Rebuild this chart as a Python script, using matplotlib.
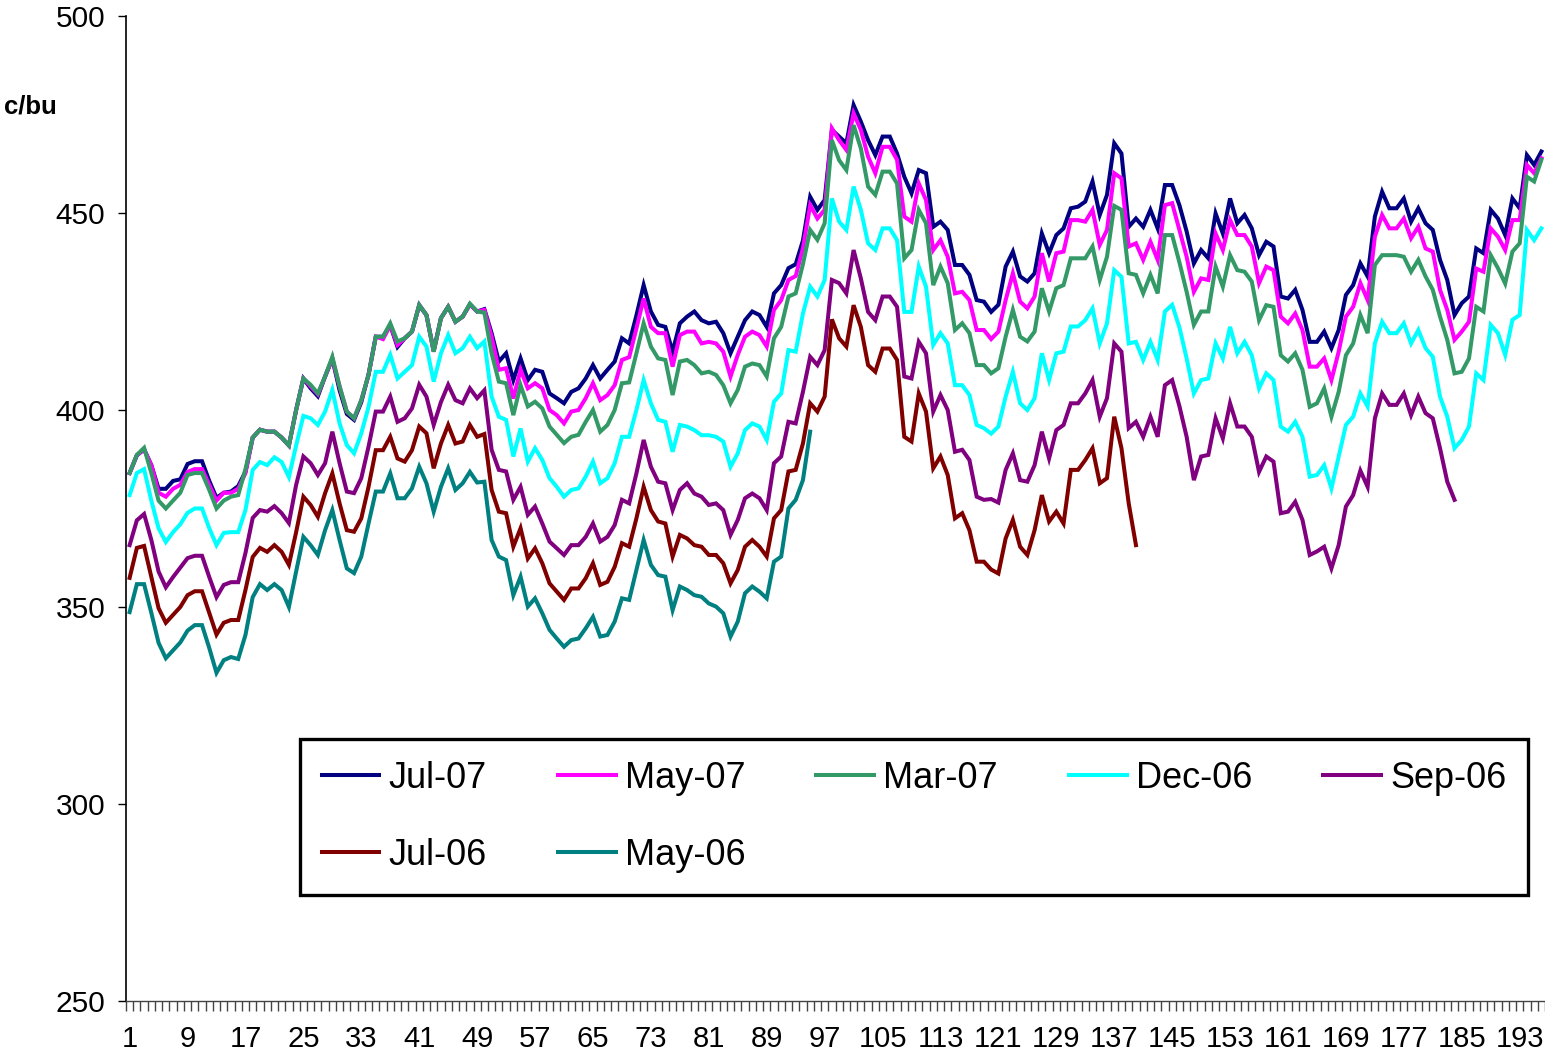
import matplotlib
matplotlib.use("Agg")
import matplotlib.pyplot as plt
import numpy as np

plt.rcParams["font.family"] = ["Liberation Sans", "DejaVu Sans"]

# prices, c/bu, one value per trading day (category 1..196)
jul07 = [
    384, 388.5, 390, 386, 380, 380, 382, 382.4, 386.3, 387,
    387, 382, 377.7, 379, 379.3, 380.7, 384.3, 393, 395, 394.5,
    394.5, 393, 391, 400, 408, 405.5, 403.5, 408.5, 413, 405,
    399, 397.5, 402, 409, 418.6, 418.6, 421.5, 416, 418.2, 419.9,
    426.5, 424.1, 415, 423.3, 426.2, 422.4, 423.7, 426.8, 425, 425.6,
    419.5, 412.3, 414.4, 407.6, 413.1, 407.6, 410.2, 409.7, 404.2, 403,
    401.7, 404.6, 405.5, 408, 411.4, 408, 410.2, 412.3, 418.2, 416.9,
    424, 431.7, 425, 421.6, 421.1, 414.8, 422, 423.7, 425, 422.8,
    422, 422.4, 419.5, 414.4, 418.6, 422.8, 425, 424.1, 421.1, 429.6,
    431.7, 436, 437, 443, 454.1, 450.8, 453.3, 471.1, 469.4, 467.7,
    477.4, 473.2, 468.5, 464.7, 469.4, 469.4, 465.1, 459.2, 455, 460.9,
    460.1, 446.5, 447.8, 445.7, 436.8, 436.8, 434.3, 427.9, 427.5, 424.9,
    426.7, 436.4, 440.2, 433.9, 432.6, 434.7, 444.8, 439.8, 444.4, 446.1,
    451.2, 451.6, 452.9, 458, 449.5, 454.6, 467.7, 465.1, 446.5, 448.6,
    446.5, 450.8, 446.1, 457.1, 457.1, 452, 445.3, 437.2, 440.6, 438.5,
    449.9, 444.8, 453.7, 447.4, 449.5, 446.1, 439.3, 442.7, 441.5, 428.8,
    428.3, 430.5, 425.4, 417.3, 417.3, 419.9, 415.7, 420.3, 429.2, 431.7,
    437.2, 433.9, 449.1, 455.4, 451.2, 451.2, 453.7, 447.8, 451.2, 447.4,
    445.7, 438.1, 433, 424.1, 427.1, 428.8, 441, 439.8, 450.8, 448.6,
    444.4, 453.7, 451.2, 464.7, 462.2, 465.6,
]

may07 = [
    384, 388.5, 390, 386, 379, 378, 380, 381, 384.3, 385,
    385, 381, 377, 379, 379, 380, 384, 393, 395, 394.5,
    394.5, 393, 391, 400, 408, 406, 404, 408.5, 413, 406,
    399.6, 397.9, 402.5, 408.9, 418.6, 418, 421.5, 416.5, 418.2, 419.9,
    426.7, 424.1, 414.8, 423.3, 426.2, 422.4, 423.7, 426.8, 425, 425.4,
    418.6, 410.2, 410.6, 402.9, 410.2, 405.5, 406.8, 405.5, 400, 398.7,
    396.6, 399.6, 400, 403, 406.8, 402.5, 403.8, 406.3, 412.7, 413.4,
    420.7, 428.3, 421.1, 419.5, 419.5, 411, 419, 419.9, 419.9, 416.9,
    417.3, 416.9, 414.8, 408.5, 414, 418.6, 419.9, 419, 416.1, 425.4,
    427.9, 433, 434, 441, 452, 448.6, 450.8, 471.5, 468.5, 466,
    475.3, 471.1, 464.3, 460.1, 466.8, 466.8, 463.5, 449.1, 447.8, 457.5,
    453.3, 440.6, 443.1, 438.9, 429.6, 430, 427.9, 420.3, 420.3, 418,
    419.9, 427.9, 434.7, 427.5, 425.8, 428.8, 439.8, 432.6, 439.8, 440.2,
    448.2, 448.2, 447.8, 450.8, 441.9, 445.7, 460.1, 458.8, 441.5, 442.3,
    438.1, 442.7, 438.1, 452, 452.5, 445.7, 438.9, 430, 433.4, 433,
    444.8, 440.6, 448.2, 444.4, 444.4, 441.5, 432.2, 436.4, 435.5, 423.7,
    422, 424.5, 420.3, 411, 411, 413.1, 407.6, 414.8, 423.7, 426.2,
    432.2, 427.9, 444, 449.5, 446.1, 446.1, 448.6, 443.6, 446.5, 441,
    440.2, 430.5, 425.4, 417.8, 419.9, 422.4, 435.9, 435.1, 446.1, 444,
    440.6, 448.2, 448.2, 462.2, 460.1, 463.9,
]

mar07 = [
    384, 388.6, 390.4, 384, 377, 375, 377, 379, 383.5, 384,
    384, 379.7, 375, 377, 378, 378.4, 385, 393, 395, 394.5,
    394.5, 393, 391, 400, 408, 406.4, 404.2, 408.5, 413.5, 406,
    399.6, 397.9, 402.5, 408.9, 418.6, 418.6, 422, 417.4, 418.2, 419.9,
    426.7, 424.1, 414.8, 423.3, 426.2, 422.4, 423.7, 427, 425, 424.7,
    414.4, 407.2, 406.8, 398.7, 406.3, 400.9, 402.1, 400.4, 395.8, 393.7,
    391.6, 393.2, 393.7, 397, 400, 394.5, 396.2, 400, 406.8, 407,
    414.4, 422, 416.1, 413.1, 412.7, 403.8, 412.3, 412.7, 411.4, 409.3,
    409.7, 408.9, 406.3, 401.7, 405.1, 411, 411.8, 411.4, 408.5, 418.2,
    421.1, 428.8, 429.6, 437, 445.7, 443.2, 447.4, 468.5, 463.4, 460.9,
    472.3, 466.4, 456.7, 454.6, 460.5, 460.5, 457.5, 438.5, 440.6, 450.8,
    447.4, 431.7, 436.4, 432.2, 420.3, 422, 419.5, 411.4, 411.4, 409.3,
    410.6, 418.6, 425.4, 418.6, 417.4, 419.9, 430.9, 425, 430.9, 431.7,
    438.5, 438.5, 438.5, 441.5, 433, 438.9, 451.8, 450.8, 434.7, 434.3,
    429.6, 434.3, 429.6, 444.4, 444.4, 437.5, 430, 421.6, 425, 425,
    436.4, 431.3, 439.3, 435.5, 435.1, 432.6, 422.8, 426.6, 426.2, 413.9,
    412.3, 414.4, 410.2, 400.8, 401.7, 405.5, 398.3, 404.6, 413.9, 416.9,
    424.1, 419.5, 436.8, 439.3, 439.3, 439.3, 438.9, 435.1, 438.1, 433.9,
    430.5, 423.7, 417.8, 409.3, 409.7, 413.1, 426.2, 425, 439.3, 436,
    432.1, 440.2, 442.3, 459.2, 458, 463.5,
]

dec06 = [
    378.4, 384, 385, 377, 370, 366.5, 369, 371, 373.9, 375,
    375, 370, 365.7, 368.8, 369, 369, 374.6, 384.8, 386.8, 386,
    388, 386.8, 383, 391, 398.5, 397.9, 396.2, 399.6, 405.1, 396.6,
    391.1, 389, 394.1, 400.8, 409.7, 409.7, 414, 408, 409.7, 411.4,
    418.6, 416.1, 407.2, 414.4, 419, 414.4, 415.7, 418.6, 415.7, 417.4,
    403.4, 398.3, 397.5, 388.2, 395.3, 386.9, 390.3, 387.3, 382.7, 380.5,
    378, 379.7, 380.1, 383.1, 386.9, 381.4, 382.7, 386.5, 393.2, 393.2,
    400, 407.6, 401.7, 397.5, 397, 389.4, 396.2, 395.8, 394.9, 393.6,
    393.6, 393.2, 392, 385.6, 389, 394.9, 396.6, 395.8, 392.4, 402.1,
    404.2, 415.2, 414.8, 424.5, 431.3, 428.8, 433, 453.7, 447.8, 445.7,
    456.7, 450.8, 442.3, 440.6, 446.1, 446.1, 443.1, 424.9, 424.9, 436.4,
    431.3, 416.5, 419.5, 416.9, 406.3, 406.3, 403.8, 396.2, 395.4, 394,
    395.8, 403.4, 409.7, 401.7, 400, 403, 414.4, 407.6, 414.4, 414.8,
    421.2, 421.2, 422.8, 425.8, 416.9, 422, 435.5, 433.8, 416.9, 417.3,
    412.7, 417.3, 412.7, 425, 426.7, 421, 413.1, 404.2, 407.6, 408,
    416.9, 413.1, 421.1, 414.4, 417.3, 413.9, 405.5, 409.3, 407.6, 395.8,
    394.5, 397, 393.2, 383.1, 383.5, 386, 380.1, 388.2, 396.2, 398.3,
    404.2, 400.9, 416.9, 422.4, 419.5, 419.5, 422, 416.9, 420.3, 415.7,
    413.5, 403.4, 398.3, 390.3, 392.4, 395.8, 409.3, 407.6, 421.6, 419.5,
    414, 422.9, 424.1, 445.7, 443.1, 446.1,
]

sep06 = [
    365.7, 372, 373.6, 367, 359, 355, 357.6, 360, 362.4, 363,
    363, 357.6, 352.5, 355.6, 356.3, 356.3, 363.7, 372.6, 374.6, 374.2,
    375.6, 373.8, 371.3, 381, 388.2, 386.5, 383.5, 386.5, 394.5, 386.5,
    379.3, 378.9, 382.7, 390.7, 399.6, 399.6, 403.4, 397, 397.9, 400.4,
    406.4, 403.4, 396.2, 402, 406.4, 402.5, 401.7, 405.5, 403, 405,
    389.9, 384.8, 384.4, 377.2, 380.5, 373.4, 375.5, 371.2, 366.6, 364.9,
    363.2, 365.7, 365.7, 367.8, 371.2, 366.6, 367.8, 370.8, 377.2, 376.3,
    383.9, 392.4, 385.6, 381.8, 381.4, 374.6, 379.7, 381.4, 378.8, 378,
    375.9, 376.3, 374.6, 368.3, 372.1, 377.6, 378.8, 377.6, 374.6, 386.5,
    388.2, 397, 396.6, 404.6, 413.5, 411.4, 415.2, 433, 432.2, 429.6,
    440.6, 433.4, 424.9, 422.8, 428.8, 428.8, 426.2, 408.5, 408, 417.3,
    414.4, 399.6, 403.8, 400, 389.4, 389.9, 387.3, 378, 377.2, 377.4,
    376.5, 384.8, 389, 382.2, 381.8, 386, 394.5, 387.7, 394.9, 396.2,
    401.7, 401.7, 404.2, 407.6, 398.3, 403, 416.9, 414.8, 395.4, 397,
    393.2, 398.3, 393.2, 406.3, 407.6, 401, 393.2, 382.2, 388.2, 388.6,
    397.9, 392.8, 401.7, 395.8, 395.8, 393.2, 384.3, 388.2, 386.9, 373.8,
    374.2, 376.7, 372.1, 363.2, 364.1, 365.3, 359.8, 365.7, 375.5, 378.4,
    384.6, 380.5, 397.9, 404.2, 401.3, 401.3, 404.2, 398.7, 403.4, 399.2,
    397.9, 390.3, 381.8, 377.2,
]

jul06 = [
    357.4, 365, 365.5, 357.6, 349.7, 346, 348, 350, 353, 354,
    354, 348.5, 343, 346, 346.7, 346.7, 354.3, 362.7, 365, 364,
    365.7, 364, 360.7, 369, 378, 375.9, 372.9, 378.9, 383.9, 376.3,
    369.5, 369.1, 372.5, 380.5, 389.8, 389.8, 393.2, 387.7, 386.9, 389.8,
    395.8, 394.1, 385.2, 391.5, 396.2, 391.5, 392, 396.2, 393.2, 393.9,
    379.7, 374.2, 373.8, 365.3, 370, 362.3, 364.9, 361.1, 356, 353.9,
    351.8, 354.7, 354.7, 357.3, 361.1, 355.6, 356.4, 360.2, 366.2, 365.3,
    372.5, 380.5, 374.6, 371.7, 371.2, 362.8, 368.3, 367.4, 365.7, 365.3,
    363.2, 363.2, 361.1, 356, 359.4, 365.3, 367, 365.3, 362.8, 372.5,
    374.6, 384.4, 384.8, 391.5, 401.7, 399.6, 403.4, 423, 418.2, 416.1,
    426.6, 421.1, 411.4, 409.7, 415.6, 415.6, 412.7, 393.2, 392, 404.2,
    399.6, 385.2, 388.2, 383.5, 372.5, 373.8, 369.5, 361.5, 361.5, 359.5,
    358.5, 367.4, 372.1, 365.3, 363.2, 369.5, 378.4, 371.7, 374.2, 371.2,
    384.8, 384.8, 387.3, 390.3, 381.4, 382.7, 398.3, 390.3, 376.3, 365.7,
]

may06 = [
    348.7, 355.8, 355.8, 348.5, 340.9, 337, 339, 341, 344, 345.4,
    345.4, 339.6, 333.3, 336.5, 337.3, 336.8, 342.9, 352.5, 355.8, 354.3,
    355.8, 354.3, 350, 359, 367.8, 365.7, 363.2, 369.5, 374.6, 367,
    359.8, 358.6, 362.8, 371.2, 379.3, 379.3, 383.9, 377.6, 377.6, 380.1,
    385.6, 381.4, 374.2, 380.5, 385.2, 379.7, 381.4, 384.3, 381.6, 381.8,
    367, 362.8, 361.9, 353, 357.7, 350.1, 352.2, 348.4, 344.2, 342,
    339.9, 341.6, 342, 344.6, 347.5, 342.5, 342.9, 346.3, 352.2, 351.8,
    359.4, 367, 360.7, 358.1, 357.7, 349.2, 355.2, 354.3, 353, 352.6,
    350.9, 350.1, 348.4, 342.5, 346.3, 353.5, 355.2, 353.9, 352.2, 361.5,
    362.8, 375, 377.2, 382.2, 394.5,
]

series = [
    ("Jul-07", jul07, "#000080"),
    ("May-07", may07, "#FF00FF"),
    ("Mar-07", mar07, "#339966"),
    ("Dec-06", dec06, "#00FFFF"),
    ("Sep-06", sep06, "#800080"),
    ("Jul-06", jul06, "#800000"),
    ("May-06", may06, "#008080"),
]

fig = plt.figure(figsize=(15.45, 10.54), dpi=100)
ax = fig.add_axes([126 / 1545, 1 - 1001 / 1054, 1419 / 1545, 985 / 1054])

lines = {}
for name, vals, col in series:
    x = np.arange(1, len(vals) + 1)
    (ln,) = ax.plot(x, vals, color=col, lw=2.9, label=name, solid_joinstyle="miter")
    lines[name] = ln

ax.set_xlim(0.5, 196.5)
ax.set_ylim(250, 500)

ax.spines["top"].set_visible(False)
ax.spines["right"].set_visible(False)
ax.spines["left"].set_linewidth(1.2)
ax.spines["bottom"].set_linewidth(1.0)
ax.spines["bottom"].set_color("#444444")

ax.set_yticks(np.arange(250, 501, 50))
ax.tick_params(axis="y", direction="out", length=6, width=1, labelsize=21.5, pad=9)

ax.set_xticks(np.arange(1, 197, 8))
ax.set_xticks(np.arange(0.5, 197, 1), minor=True)
ax.tick_params(axis="x", which="major", length=0, labelsize=21, pad=17)
ax.tick_params(axis="x", which="minor", direction="out", length=7, width=1, color="#444444")

fig.text(4 / 1545, 1 - 106 / 1054, "c/bu", fontsize=18.5, fontweight="bold", va="center", ha="left")

# legend filled row by row like the original (matplotlib fills columns)
order = ["Jul-07", "Jul-06", "May-07", "May-06", "Mar-07", "Dec-06", "Sep-06"]
leg = ax.legend(
    [lines[n] for n in order],
    order,
    ncol=5,
    loc="upper left",
    bbox_to_anchor=(174 / 1419, (1001 - 899) / 985, 1228 / 1419, 160 / 985),
    mode="expand",
    borderaxespad=0,
    fontsize=26,
    handlelength=1.6,
    handletextpad=0.25,
    labelspacing=1.17,
    borderpad=0.6,
    frameon=True,
    fancybox=False,
    framealpha=1,
)
leg.get_frame().set_edgecolor("black")
leg.get_frame().set_linewidth(2.4)

fig.savefig("out.png", dpi=100)
